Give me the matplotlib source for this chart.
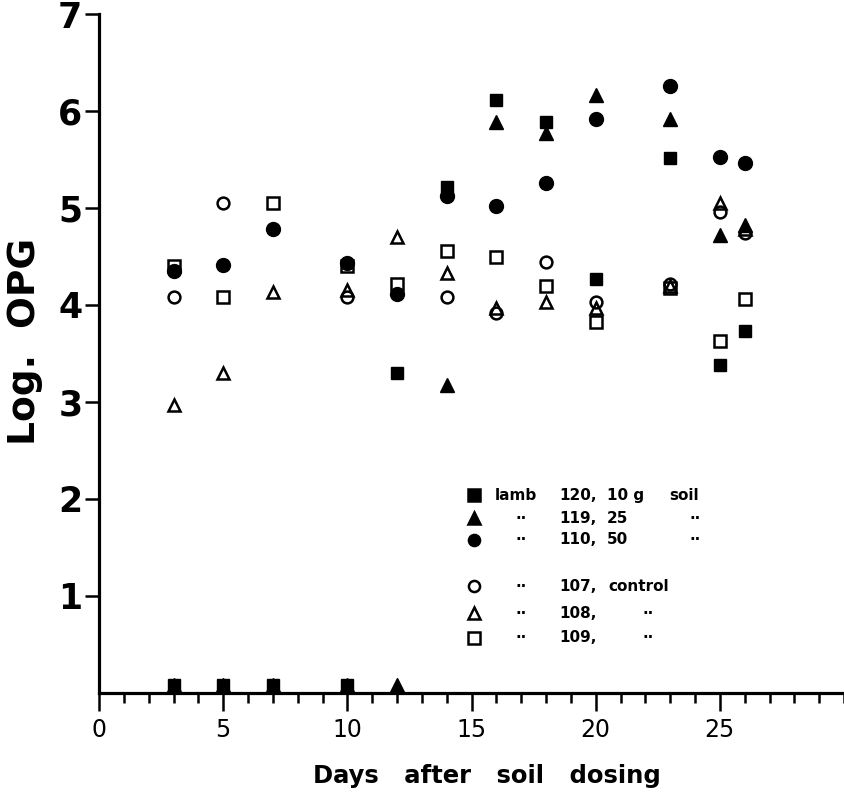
import numpy as np
import matplotlib
matplotlib.use("Agg")
import matplotlib.pyplot as plt
from matplotlib.ticker import MultipleLocator

nan = np.nan

# sampling days and log OPG per lamb (zero counts drawn just on the axis)
days = [3, 5, 7, 10, 12, 14, 16, 18, 20, 23, 25, 26]
lamb120 = [0.08, 0.08, 0.08, 0.08, 3.30, 5.22, 6.11, 5.89, 4.27, 5.52, 3.38, 3.73]
lamb119 = [0.08, 0.08, 0.08, 0.08, 0.08, 3.17, 5.89, 5.77, 6.16, 5.92, 4.72, 4.82]
lamb110 = [4.35, 4.41, 4.78, 4.43, 4.11, 5.12, 5.02, 5.26, 5.92, 6.26, 5.53, 5.46]
lamb107 = [4.08, 5.05, nan, 4.08, nan, 4.08, 3.92, 4.44, 4.03, 4.22, 4.96, 4.74]
lamb108 = [2.97, 3.30, 4.13, 4.15, 4.70, 4.33, 3.97, 4.03, 3.97, 4.20, 5.05, 4.78]
lamb109 = [4.40, 4.08, 5.05, 4.40, 4.22, 4.56, 4.49, 4.20, 3.82, 4.17, 3.63, 4.06]

xticks = [0, 5, 10, 15, 20, 25]
yticks = [1, 2, 3, 4, 5, 6, 7]

fig = plt.figure(figsize=(8.44, 8.01), dpi=100)
ax = fig.add_axes([0.1173, 0.135, 0.8827, 0.8475])

ax.plot(days, lamb109, 's', ms=8, mfc='none', mec='k', mew=1.8, ls='none', clip_on=False)
ax.plot(days, lamb108, '^', ms=9, mfc='none', mec='k', mew=1.8, ls='none', clip_on=False)
ax.plot(days, lamb107, 'o', ms=8.5, mfc='none', mec='k', mew=1.8, ls='none', clip_on=False)
ax.plot(days, lamb110, 'o', ms=10, color='k', ls='none', clip_on=False)
ax.plot(days, lamb119, '^', ms=10, color='k', ls='none', clip_on=False)
ax.plot(days, lamb120, 's', ms=8, color='k', ls='none', clip_on=False)

ax.set_xlim(0, 30)
ax.set_ylim(0, 7)
ax.spines['top'].set_visible(False)
ax.spines['right'].set_visible(False)
ax.spines['left'].set_linewidth(2.3)
ax.spines['bottom'].set_linewidth(2.3)

ax.set_xticks(xticks)
ax.xaxis.set_minor_locator(MultipleLocator(1))
ax.set_yticks(yticks)
ax.tick_params(axis='x', which='major', length=13, width=1.8, labelsize=17, pad=5)
ax.tick_params(axis='x', which='minor', length=7, width=1.8)
ax.tick_params(axis='y', length=10, width=1.8, labelsize=25, pad=2)
for lab in ax.get_yticklabels():
    lab.set_fontweight('bold')

ax.set_xlabel("Days   after   soil   dosing", fontsize=17.5, fontweight='bold')
ax.xaxis.set_label_coords(0.52, -0.105)
ax.set_ylabel("Log.  OPG", fontsize=27, fontweight='bold')
ax.yaxis.set_label_coords(-0.075, 0.518)

# key, laid out as in the original figure
tk = dict(fontsize=11, fontweight='bold', va='center')
keys = [('s', 'k', 2.04), ('^', 'k', 1.80), ('o', 'k', 1.58),
        ('o', 'none', 1.10), ('^', 'none', 0.82), ('s', 'none', 0.57)]
for marker, fc, ky in keys:
    ax.plot([15.1], [ky], marker, ms=8 if marker != '^' else 9, mfc=fc, mec='k', mew=1.8)

ax.text(15.95, 2.04, "lamb", ha='left', **tk)
ax.text(18.55, 2.04, "120,", ha='left', **tk)
ax.text(20.45, 2.04, "10 g", ha='left', **tk)
ax.text(22.98, 2.04, "soil", ha='left', **tk)
for ky, num, dose in [(1.80, "119,", "25"), (1.58, "110,", "50")]:
    ax.text(17.0, ky, "··", ha='center', **tk)
    ax.text(18.55, ky, num, ha='left', **tk)
    ax.text(20.45, ky, dose, ha='left', **tk)
    ax.text(24.0, ky, "··", ha='center', **tk)
ax.text(17.0, 1.10, "··", ha='center', **tk)
ax.text(18.55, 1.10, "107,", ha='left', **tk)
ax.text(20.5, 1.10, "control", ha='left', **tk)
for ky, num in [(0.82, "108,"), (0.57, "109,")]:
    ax.text(17.0, ky, "··", ha='center', **tk)
    ax.text(18.55, ky, num, ha='left', **tk)
    ax.text(22.1, ky, "··", ha='center', **tk)

fig.savefig("out.png", dpi=100)
